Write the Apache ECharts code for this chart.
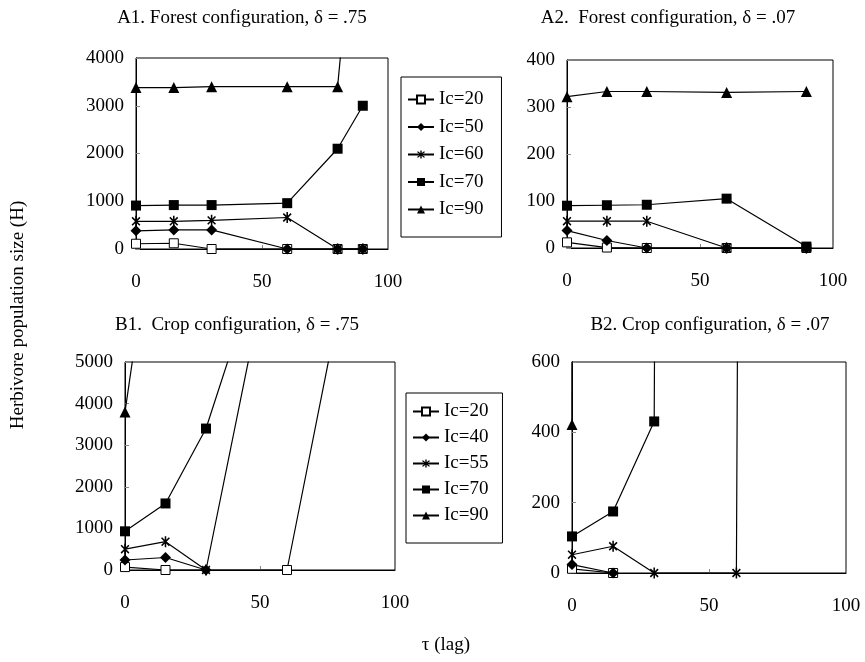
<!DOCTYPE html>
<html><head><meta charset="utf-8">
<script src="https://cdn.jsdelivr.net/npm/echarts@6/dist/echarts.min.js"></script>
<style>html,body{margin:0;padding:0;background:#fff}#c{width:865px;height:662px}</style>
</head><body><div id="c"></div>
<script>
// ---- Data ----
const xA1 = [0, 15, 30, 60, 80, 90];
const a1_ic20 = [110, 120, 0, 0, 0, 0];
const a1_ic50 = [380, 400, 400, 0, 0, 0];
const a1_ic60 = [580, 580, 600, 660, 0, 0];
const a1_ic70 = [910, 920, 920, 960, 2100, 3000];
const a1_ic90 = [3380, 3380, 3400, 3400, 3400, 9000];

const xA2 = [0, 15, 30, 60, 90];
const a2_ic20 = [12, 1, 0, 0, 0];
const a2_ic50 = [37, 16, 0, 0, 0];
const a2_ic60 = [57, 57, 57, 0, 0];
const a2_ic70 = [90, 91, 92, 105, 3];
const a2_ic90 = [322, 333, 333, 331, 333];

const xB = [0, 15, 30, 60, 90];
const b1_ic20 = [70, 0, null, 0, 9800];
const b1_ic40 = [240, 300, 0, null, null];
const b1_ic55 = [500, 680, 0, 9600, null];
const b1_ic70 = [930, 1600, 3400, 9400, null];
const b1_ic90 = [3800, 10500, null, null, null];

const b2_ic20 = [12, 0, null, null, null];
const b2_ic40 = [24, 0, null, null, null];
const b2_ic55 = [52, 76, 0, 0, 50000];
const b2_ic70 = [104, 175, 431, 50000, null];
const b2_ic90 = [422, 50000, null, null, null];

const legendA = ['Ic=20', 'Ic=50', 'Ic=60', 'Ic=70', 'Ic=90'];
const legendB = ['Ic=20', 'Ic=40', 'Ic=55', 'Ic=70', 'Ic=90'];
const xTicks = {min: 0, max: 100, interval: 50};
const yA1 = {min: 0, max: 4000, interval: 1000};
const yA2 = {min: 0, max: 400, interval: 100};
const yB1 = {min: 0, max: 5000, interval: 1000};
const yB2 = {min: 0, max: 600, interval: 200};

// ---- Styling ----
const FONT = 'Liberation Serif';
const STAR = 'path://M-0.7 -5L0.7 -5L0.7 5L-0.7 5Z M-4.031 -3.041L-3.041 -4.031L4.031 3.041L3.041 4.031Z M-3.041 4.031L-4.031 3.041L3.041 -4.031L4.031 -3.041Z';
const markerStyles = [
  {symbol: 'rect', symbolSize: 9, itemStyle: {color: '#fff', borderColor: '#000', borderWidth: 1}},
  {symbol: 'diamond', symbolSize: 11, itemStyle: {color: '#000'}},
  {symbol: STAR, symbolSize: 11, symbolKeepAspect: true, itemStyle: {color: '#000'}},
  {symbol: 'rect', symbolSize: 10, itemStyle: {color: '#000'}},
  {symbol: 'triangle', symbolSize: 11, itemStyle: {color: '#000'}}
];

function mk(name, xs, ys, idx, style) {
  const data = xs.map((x, i) => [x, ys[i]]).filter(p => p[1] !== null);
  return Object.assign({
    type: 'line', name: name, data: data,
    xAxisIndex: idx, yAxisIndex: idx,
    lineStyle: {color: '#000', width: 1.2},
    clip: true, animation: false
  }, style);
}

const series = [];
[a1_ic20, a1_ic50, a1_ic60, a1_ic70, a1_ic90].forEach((ys, k) => series.push(mk(legendA[k], xA1, ys, 0, markerStyles[k])));
[a2_ic20, a2_ic50, a2_ic60, a2_ic70, a2_ic90].forEach((ys, k) => series.push(mk(legendA[k], xA2, ys, 1, markerStyles[k])));
[b1_ic20, b1_ic40, b1_ic55, b1_ic70, b1_ic90].forEach((ys, k) => series.push(mk(legendB[k], xB, ys, 2, markerStyles[k])));
[b2_ic20, b2_ic40, b2_ic55, b2_ic70, b2_ic90].forEach((ys, k) => series.push(mk(legendB[k], xB, ys, 3, markerStyles[k])));

const grids = [
  {left: 136, top: 58, width: 252, height: 191},
  {left: 567, top: 60, width: 266, height: 188},
  {left: 125, top: 362, width: 270, height: 208},
  {left: 572, top: 362, width: 274, height: 211}
].map(g => Object.assign({show: true, borderColor: '#000', borderWidth: 1, backgroundColor: 'transparent'}, g));

const lbl = {color: '#000', fontFamily: FONT, fontSize: 19, formatter: v => String(v)};
function xAx(i) {
  return Object.assign({type: 'value', gridIndex: i,
    axisLine: {show: true, onZero: false, lineStyle: {color: '#000'}},
    axisTick: {show: true, inside: true, length: 4, lineStyle: {color: '#888'}},
    splitLine: {show: false},
    axisLabel: Object.assign({margin: 24}, lbl)}, xTicks);
}
function yAx(i, t) {
  return Object.assign({type: 'value', gridIndex: i,
    axisLine: {show: true, lineStyle: {color: '#000'}},
    axisTick: {show: true, inside: true, length: 4, lineStyle: {color: '#888'}},
    splitLine: {show: false},
    axisLabel: Object.assign({margin: 12}, lbl)}, t);
}

function legend(names, left, top, pad) {
  return {
    data: names, orient: 'vertical', left: left, top: top,
    itemWidth: 26, itemHeight: 10, itemGap: pad.gap,
    padding: pad.p, borderColor: '#000', borderWidth: 1,
    textStyle: {color: '#000', fontFamily: FONT, fontSize: 19},
    selectedMode: false
  };
}

function txt(s, x, y, rot) {
  return {type: 'text', x: x, y: y, rotation: rot || 0,
    style: {text: s, font: '19px "Liberation Serif"', fill: '#000', textAlign: 'center', textVerticalAlign: 'middle'}};
}

const option = {
  animation: false,
  backgroundColor: '#fff',
  grid: grids,
  xAxis: [xAx(0), xAx(1), xAx(2), xAx(3)],
  yAxis: [yAx(0, yA1), yAx(1, yA2), yAx(2, yB1), yAx(3, yB2)],
  legend: [
    legend(legendA, 401, 77, {gap: 8.5, p: [13, 18, 18, 6]}),
    legend(legendB, 406, 393, {gap: 7, p: [9, 14, 18, 6]})
  ],
  graphic: [
    txt('A1. Forest configuration, \u03b4 = .75', 242, 18),
    txt('A2.  Forest configuration, \u03b4 = .07', 668, 18),
    txt('B1.  Crop configuration, \u03b4 = .75', 237, 325),
    txt('B2. Crop configuration, \u03b4 = .07', 710, 325),
    txt('Herbivore population size (H)', 18, 315, Math.PI / 2),
    txt('\u03c4 (lag)', 446, 645)
  ],
  series: series
};

const chart = echarts.init(document.getElementById('c'), null, {renderer: 'canvas'});
chart.setOption(option);
</script></body></html>
